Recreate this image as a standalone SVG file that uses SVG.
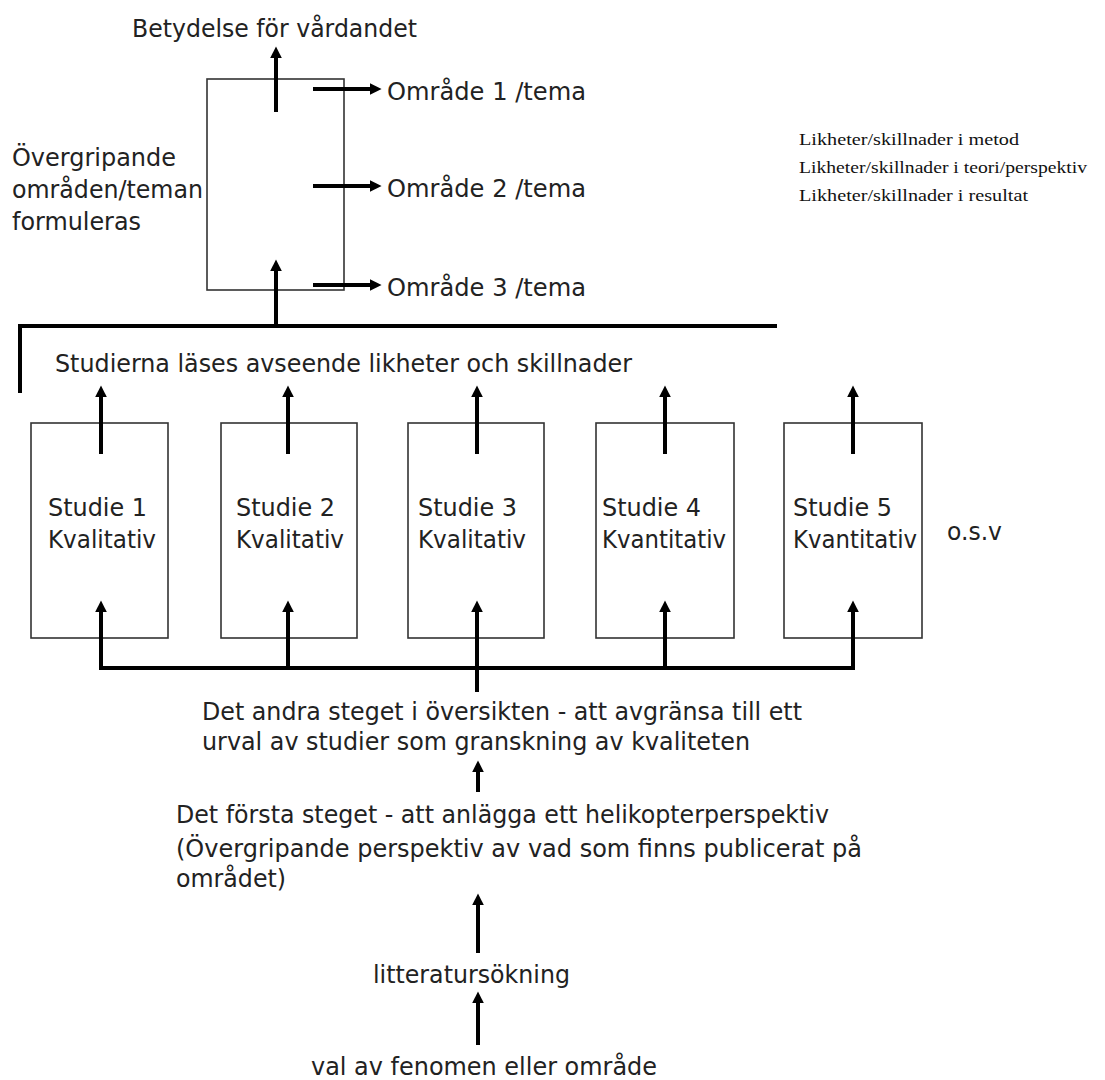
<svg xmlns="http://www.w3.org/2000/svg" width="1105" height="1080" viewBox="0 0 1105 1080">
<style>
.t{font-family:"DejaVu Sans","Liberation Sans",sans-serif;font-size:25px;fill:#222}
.s{font-family:"Liberation Serif","DejaVu Serif",serif;font-size:17px;fill:#111}
.box{fill:none;stroke:#333;stroke-width:1.6}
.c{stroke:#000;stroke-width:4;fill:none}
</style>
<defs>
<marker id="ah" viewBox="0 0 10 10" refX="2" refY="5" markerWidth="12" markerHeight="12" markerUnits="userSpaceOnUse" orient="auto">
<path d="M0,0 L10,5 L0,10 z" fill="#000"/>
</marker>
</defs>
<rect width="1105" height="1080" fill="#fff"/>

<g id="title"><text class="t" x="132" y="37" textLength="285" lengthAdjust="spacingAndGlyphs">Betydelse för vårdandet</text></g>

<g id="themes-box">
<rect class="box" x="207" y="79" width="137" height="211"/>
</g>
<g id="themes-label">
<text class="t" x="12" y="166" textLength="164" lengthAdjust="spacingAndGlyphs">Övergripande</text>
<text class="t" x="12" y="198" textLength="191" lengthAdjust="spacingAndGlyphs">områden/teman</text>
<text class="t" x="12" y="230" textLength="129" lengthAdjust="spacingAndGlyphs">formuleras</text>
</g>
<g id="omrade1"><text class="t" x="387" y="100" textLength="199" lengthAdjust="spacingAndGlyphs">Område 1 /tema</text></g>
<g id="omrade2"><text class="t" x="387" y="197" textLength="199" lengthAdjust="spacingAndGlyphs">Område 2 /tema</text></g>
<g id="omrade3"><text class="t" x="387" y="296" textLength="199" lengthAdjust="spacingAndGlyphs">Område 3 /tema</text></g>

<g id="likheter">
<text class="s" x="799" y="145" textLength="220" lengthAdjust="spacingAndGlyphs">Likheter/skillnader i metod</text>
<text class="s" x="799" y="173" textLength="288" lengthAdjust="spacingAndGlyphs">Likheter/skillnader i teori/perspektiv</text>
<text class="s" x="799" y="201" textLength="229" lengthAdjust="spacingAndGlyphs">Likheter/skillnader i resultat</text>
</g>

<g id="studierna"><text class="t" x="55" y="372" textLength="577" lengthAdjust="spacingAndGlyphs">Studierna läses avseende likheter och skillnader</text></g>

<g id="studie1">
<rect class="box" x="31" y="423" width="137" height="215"/>
<text class="t" x="48" y="516" textLength="99" lengthAdjust="spacingAndGlyphs">Studie 1</text>
<text class="t" x="48" y="548" textLength="108" lengthAdjust="spacingAndGlyphs">Kvalitativ</text>
</g>
<g id="studie2">
<rect class="box" x="221" y="423" width="136" height="215"/>
<text class="t" x="236" y="516" textLength="99" lengthAdjust="spacingAndGlyphs">Studie 2</text>
<text class="t" x="236" y="548" textLength="108" lengthAdjust="spacingAndGlyphs">Kvalitativ</text>
</g>
<g id="studie3">
<rect class="box" x="408" y="423" width="136" height="215"/>
<text class="t" x="418" y="516" textLength="99" lengthAdjust="spacingAndGlyphs">Studie 3</text>
<text class="t" x="418" y="548" textLength="108" lengthAdjust="spacingAndGlyphs">Kvalitativ</text>
</g>
<g id="studie4">
<rect class="box" x="596" y="423" width="138" height="215"/>
<text class="t" x="602" y="516" textLength="99" lengthAdjust="spacingAndGlyphs">Studie 4</text>
<text class="t" x="602" y="548" textLength="124" lengthAdjust="spacingAndGlyphs">Kvantitativ</text>
</g>
<g id="studie5">
<rect class="box" x="784" y="423" width="138" height="215"/>
<text class="t" x="793" y="516" textLength="99" lengthAdjust="spacingAndGlyphs">Studie 5</text>
<text class="t" x="793" y="548" textLength="124" lengthAdjust="spacingAndGlyphs">Kvantitativ</text>
</g>
<g id="osv"><text class="t" x="947" y="540" textLength="55" lengthAdjust="spacingAndGlyphs">o.s.v</text></g>

<g id="steg2">
<text class="t" x="202" y="720" textLength="600" lengthAdjust="spacingAndGlyphs">Det andra steget i översikten - att avgränsa till ett</text>
<text class="t" x="202" y="750" textLength="548" lengthAdjust="spacingAndGlyphs">urval av studier som granskning av kvaliteten</text>
</g>
<g id="steg1">
<text class="t" x="176" y="823" textLength="653" lengthAdjust="spacingAndGlyphs">Det första steget - att anlägga ett helikopterperspektiv</text>
<text class="t" x="176" y="857" textLength="686" lengthAdjust="spacingAndGlyphs">(Övergripande perspektiv av vad som finns publicerat på</text>
<text class="t" x="176" y="887" textLength="110" lengthAdjust="spacingAndGlyphs">området)</text>
</g>
<g id="litteratur"><text class="t" x="373" y="983" textLength="197" lengthAdjust="spacingAndGlyphs">litteratursökning</text></g>
<g id="val"><text class="t" x="311" y="1075" textLength="346" lengthAdjust="spacingAndGlyphs">val av fenomen eller område</text></g>

<g id="connectors">
<line class="c" x1="276" y1="112" x2="276" y2="56" marker-end="url(#ah)"/>
<line class="c" x1="313" y1="89" x2="372" y2="89" marker-end="url(#ah)"/>
<line class="c" x1="313" y1="186" x2="372" y2="186" marker-end="url(#ah)"/>
<line class="c" x1="313" y1="285" x2="372" y2="285" marker-end="url(#ah)"/>
<line class="c" x1="276" y1="326" x2="276" y2="269" marker-end="url(#ah)"/>
<polyline class="c" points="20,393 20,326 777,326"/>
<line class="c" x1="101" y1="454" x2="101" y2="395" marker-end="url(#ah)"/>
<line class="c" x1="288" y1="454" x2="288" y2="395" marker-end="url(#ah)"/>
<line class="c" x1="477" y1="454" x2="477" y2="395" marker-end="url(#ah)"/>
<line class="c" x1="665" y1="454" x2="665" y2="395" marker-end="url(#ah)"/>
<line class="c" x1="853" y1="454" x2="853" y2="395" marker-end="url(#ah)"/>
<line class="c" x1="99" y1="668" x2="855" y2="668"/>
<line class="c" x1="477" y1="668" x2="477" y2="692"/>
<line class="c" x1="101" y1="668" x2="101" y2="610" marker-end="url(#ah)"/>
<line class="c" x1="288" y1="668" x2="288" y2="610" marker-end="url(#ah)"/>
<line class="c" x1="477" y1="668" x2="477" y2="610" marker-end="url(#ah)"/>
<line class="c" x1="665" y1="668" x2="665" y2="610" marker-end="url(#ah)"/>
<line class="c" x1="853" y1="668" x2="853" y2="610" marker-end="url(#ah)"/>
<line class="c" x1="478" y1="792" x2="478" y2="770" marker-end="url(#ah)"/>
<line class="c" x1="478" y1="953" x2="478" y2="903" marker-end="url(#ah)"/>
<line class="c" x1="478" y1="1045" x2="478" y2="1001" marker-end="url(#ah)"/>
</g>
</svg>
